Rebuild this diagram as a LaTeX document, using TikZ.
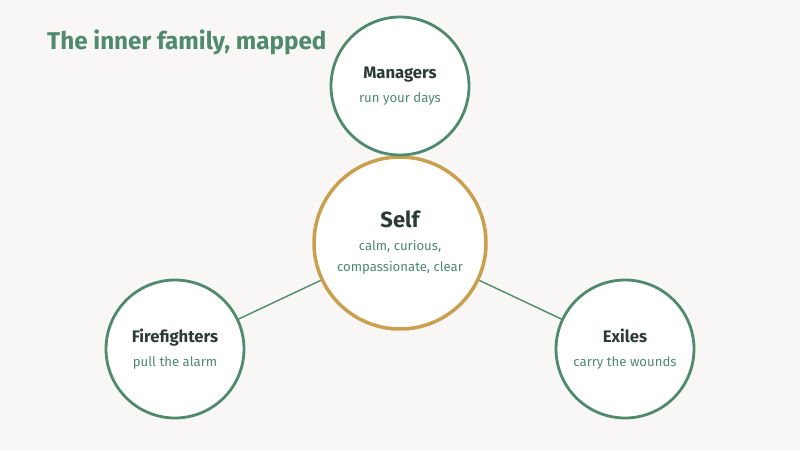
\documentclass[tikz,border=0pt]{standalone}
\usepackage{fontspec}
\setmainfont{Fira Sans}
\definecolor{sage}{HTML}{4F8A6E}
\definecolor{gold}{HTML}{C9A04F}
\definecolor{ink}{HTML}{2D3B35}
\definecolor{paper}{HTML}{F9F7F5}
\tikzstyle{ifs_style}=[x=0.02cm,y=-0.02cm,
  part/.style={circle,draw=sage,line width=1.6pt,fill=white,minimum size=2.76cm,inner sep=0pt,align=center,text=ink},
  core/.style={circle,draw=gold,line width=2pt,fill=white,minimum size=3.44cm,inner sep=0pt,align=center,text=ink},
  link/.style={draw=sage,line width=0.8pt},
  title/.style={anchor=west,font=\fontsize{13.8}{16}\selectfont\bfseries,text=sage},]

\begin{document}
\begin{tikzpicture}[ifs_style]

    % canvas
    \fill[paper] (0,0) rectangle (800,450);
    \useasboundingbox (0,0) rectangle (800,450);

    \node[title] (T) at (41,42) {The inner family, mapped};

    % the parts around the self
    \node[core] (S) at (400,243) {{\fontsize{12.5}{14}\selectfont\bfseries Self}\\[1pt]
        {\fontsize{7.5}{10.5}\selectfont\color{sage}calm, curious,}\\
        {\fontsize{7.5}{10.5}\selectfont\color{sage}compassionate, clear}};
    \node[part] (M) at (400,86) {{\fontsize{9.5}{11}\selectfont\bfseries Managers}\\[2pt]
        {\fontsize{7.5}{10}\selectfont\color{sage}run your days}};
    \node[part] (F) at (175,349) {{\fontsize{9.5}{11}\selectfont\bfseries Firefighters}\\[2pt]
        {\fontsize{7.5}{10}\selectfont\color{sage}pull the alarm}};
    \node[part] (E) at (625,349) {{\fontsize{9.5}{11}\selectfont\bfseries Exiles}\\[2pt]
        {\fontsize{7.5}{10}\selectfont\color{sage}carry the wounds}};

    % connect every part with the self
    \foreach \dest in {M,F,E}
        \path[link] (S) -- (\dest);

\end{tikzpicture}
\end{document}
